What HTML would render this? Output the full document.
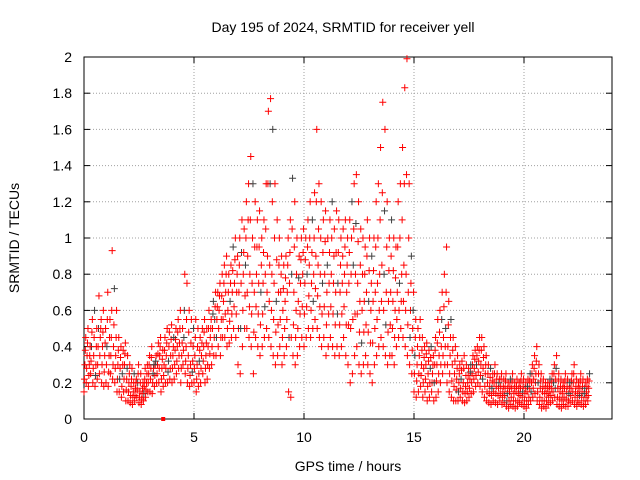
<!DOCTYPE html>
<html><head><meta charset="utf-8"><style>
html,body{margin:0;padding:0;background:#fff;}
svg{display:block;font-family:"Liberation Sans",sans-serif;}
</style></head><body>
<svg id="chart" width="640" height="480">
<text x="343" y="32" text-anchor="middle" font-size="14">Day 195 of 2024, SRMTID for receiver yell</text>
<text x="348" y="471" text-anchor="middle" font-size="14">GPS time / hours</text>
<text transform="translate(19,238) rotate(-90)" text-anchor="middle" font-size="14">SRMTID / TECUs</text>
<g id="grid"></g><g id="axes"></g><g id="marks"></g>
</svg>
<script>
const xTicks=[0,5,10,15,20];
const yTicks=[0,0.2,0.4,0.6,0.8,1,1.2,1.4,1.6,1.8,2];
const yTickLabels=["0","0.2","0.4","0.6","0.8","1","1.2","1.4","1.6","1.8","2"];
const timeStep=0.1;
const highVals=[.45,.5,.4,.55,.6,.5,.68,.55,.6,.5,.7,.55,.93,.72,.6,.45,.4,.38,.42,.35,.3,.28,.25,.22,.3,.25,.2,.28,.3,.35,.4,.3,.35,.42,.45,.38,.45,.5,.48,.52,.45,.5,.55,.6,.5,.8,.75,.6,.55,.5,.55,.5,.45,.5,.55,.5,.6,.55,.65,.7,.7,.75,.8,.85,.9,.8,.85,.95,1.0,.9,1.0,1.1,1.05,1.2,1.3,1.45,1.3,1.2,1.1,1.15,1.0,1.1,1.3,1.7,1.77,1.6,1.3,1.1,1.0,.9,.85,.9,1.0,1.1,1.33,1.2,1.0,.9,1.0,1.05,1.0,1.1,1.2,1.1,1.25,1.6,1.3,1.2,1.1,1.15,1.0,1.1,1.2,1.05,1.15,1.1,1.0,1.05,1.1,1.0,1.1,1.2,1.3,1.35,1.2,1.05,1.0,.95,1.1,1.0,.9,1.0,1.2,1.3,1.5,1.75,1.6,1.2,1.0,1.1,1.0,.95,1.2,1.3,1.5,1.83,1.99,1.3,.9,.7,.55,.5,.55,.45,.4,.42,.38,.4,.35,.45,.55,.6,.7,.8,.95,.65,.55,.45,.4,.35,.3,.32,.35,.3,.28,.3,.35,.38,.4,.45,.45,.4,.35,.3,.28,.25,.3,.25,.22,.25,.22,.25,.2,.22,.25,.2,.22,.2,.25,.22,.2,.22,.25,.3,.35,.4,.3,.25,.22,.2,.2,.22,.25,.3,.35,.25,.22,.2,.25,.22,.2,.25,.3,.22,.2,.25,.22,.2,.22,.25];
const upperVals=[.38,.42,.35,.48,.45,.4,.5,.5,.48,.42,.55,.45,.6,.52,.45,.38,.34,.3,.36,.28,.25,.22,.2,.2,.25,.2,.17,.22,.25,.3,.34,.28,.32,.36,.4,.33,.38,.42,.4,.44,.4,.44,.48,.5,.42,.6,.55,.48,.42,.4,.45,.4,.38,.42,.48,.42,.5,.5,.58,.62,.62,.68,.68,.75,.8,.7,.75,.82,.88,.8,.85,.92,.92,1.0,1.1,1.1,1.0,.95,.95,.95,.85,.92,1.05,1.3,1.3,1.2,1.0,.88,.85,.8,.72,.78,.85,.92,1.05,.95,.8,.78,.88,.92,.88,.95,1.0,.92,1.0,1.2,1.05,1.0,.92,.98,.85,.92,1.0,.9,.92,.92,.85,.9,.95,.85,.92,1.0,1.05,1.08,.98,.85,.8,.8,.9,.82,.75,.82,.95,1.0,1.1,1.25,1.15,.95,.82,.9,.82,.78,.95,1.0,1.1,1.3,1.35,1.0,.75,.6,.45,.4,.45,.38,.34,.36,.32,.34,.3,.38,.42,.48,.55,.62,.7,.52,.45,.38,.32,.28,.25,.27,.28,.24,.24,.26,.3,.33,.35,.38,.38,.34,.3,.25,.23,.21,.25,.22,.2,.22,.18,.21,.17,.18,.21,.17,.18,.17,.21,.18,.17,.18,.21,.25,.28,.32,.25,.21,.18,.17,.17,.18,.21,.25,.28,.21,.18,.17,.21,.18,.17,.21,.25,.18,.17,.21,.18,.17,.18,.21];
const midVals=[.3,.35,.3,.4,.35,.3,.4,.45,.4,.35,.4,.35,.45,.4,.35,.3,.28,.25,.3,.22,.2,.18,.15,.17,.2,.15,.14,.18,.2,.25,.28,.25,.3,.3,.35,.28,.3,.35,.32,.35,.35,.38,.4,.42,.35,.45,.4,.35,.3,.32,.35,.3,.32,.35,.4,.35,.4,.45,.5,.55,.55,.6,.55,.65,.7,.6,.65,.7,.75,.7,.7,.75,.8,.85,.9,.8,.75,.7,.8,.75,.7,.75,.8,.9,.85,.8,.75,.65,.7,.7,.6,.65,.7,.75,.8,.7,.6,.65,.75,.8,.75,.8,.85,.75,.8,.9,.85,.8,.75,.8,.7,.75,.8,.75,.7,.75,.7,.75,.8,.7,.75,.8,.85,.8,.75,.65,.6,.65,.7,.65,.6,.65,.7,.75,.8,.85,.8,.7,.65,.7,.65,.6,.7,.75,.8,.85,.8,.7,.6,.5,.35,.3,.35,.3,.28,.3,.25,.28,.25,.3,.3,.35,.4,.45,.5,.4,.35,.3,.25,.22,.2,.22,.2,.18,.2,.22,.25,.28,.3,.32,.3,.28,.25,.2,.18,.17,.2,.18,.17,.18,.15,.17,.14,.15,.17,.14,.15,.14,.17,.15,.14,.15,.17,.2,.22,.25,.2,.17,.15,.14,.14,.15,.17,.2,.22,.17,.15,.14,.17,.15,.14,.17,.2,.15,.14,.17,.15,.14,.15,.17];
const lowerVals=[.22,.28,.24,.32,.28,.24,.3,.35,.3,.26,.3,.26,.35,.3,.28,.22,.22,.18,.22,.16,.15,.13,.12,.13,.16,.12,.11,.14,.16,.2,.22,.2,.24,.25,.28,.22,.24,.28,.26,.28,.28,.3,.32,.35,.28,.38,.32,.28,.24,.26,.28,.22,.25,.28,.32,.28,.3,.36,.4,.45,.45,.5,.45,.55,.58,.5,.54,.58,.62,.58,.5,.5,.6,.68,.7,.62,.58,.48,.62,.58,.52,.58,.62,.7,.65,.6,.55,.48,.52,.55,.45,.5,.55,.45,.45,.52,.45,.5,.58,.62,.58,.62,.68,.6,.65,.72,.68,.62,.58,.62,.52,.58,.62,.58,.52,.58,.52,.58,.62,.52,.52,.5,.55,.58,.58,.48,.42,.48,.52,.48,.42,.42,.5,.55,.6,.65,.6,.52,.48,.52,.5,.45,.55,.6,.65,.65,.6,.52,.45,.38,.25,.21,.25,.24,.2,.22,.18,.2,.2,.2,.21,.25,.3,.35,.4,.3,.25,.21,.18,.16,.15,.17,.15,.14,.15,.17,.2,.22,.24,.26,.24,.22,.18,.15,.14,.13,.15,.14,.13,.14,.12,.13,.1,.1,.12,.1,.1,.1,.13,.12,.1,.1,.12,.15,.17,.2,.15,.12,.1,.1,.1,.12,.13,.15,.17,.12,.11,.1,.12,.11,.1,.13,.15,.12,.1,.13,.12,.1,.12,.13];
const lowVals=[.15,.2,.18,.25,.2,.18,.22,.25,.2,.18,.2,.18,.25,.22,.2,.15,.15,.12,.15,.1,.1,.09,.08,.1,.12,.09,.08,.1,.12,.15,.15,.14,.18,.2,.2,.15,.18,.2,.2,.22,.2,.22,.25,.28,.2,.3,.25,.2,.18,.2,.2,.15,.18,.2,.25,.2,.22,.28,.3,.35,.35,.4,.35,.45,.45,.4,.42,.45,.5,.45,.3,.25,.4,.5,.5,.45,.4,.25,.45,.4,.35,.4,.45,.5,.45,.4,.35,.3,.35,.4,.3,.35,.4,.15,.12,.35,.3,.35,.4,.45,.4,.45,.5,.45,.5,.55,.5,.45,.4,.45,.35,.4,.45,.4,.35,.4,.35,.4,.45,.35,.3,.2,.25,.35,.4,.3,.25,.3,.35,.3,.25,.2,.3,.35,.4,.45,.4,.35,.3,.35,.35,.3,.4,.45,.5,.45,.4,.35,.3,.25,.15,.12,.15,.18,.12,.15,.1,.12,.15,.1,.12,.15,.2,.25,.3,.2,.15,.12,.1,.1,.1,.12,.1,.09,.1,.12,.14,.15,.18,.2,.18,.15,.12,.1,.09,.08,.1,.09,.08,.1,.08,.09,.07,.06,.08,.07,.06,.07,.09,.08,.07,.06,.08,.1,.12,.14,.1,.08,.06,.07,.06,.08,.09,.1,.12,.08,.07,.06,.08,.07,.07,.09,.1,.08,.07,.09,.08,.07,.08,.1];
const outlierTimes=[3.6];
const outlierVals=[0];

const L=84,R=612,T=57,B=419,XMAX=24,YMAX=2;
const xs=v=>L+v/XMAX*(R-L);
const ys=v=>B-v/YMAX*(B-T);
const NS="http://www.w3.org/2000/svg";
function mk(tag,attrs,parent){const e=document.createElementNS(NS,tag);for(const k in attrs)e.setAttribute(k,attrs[k]);parent.appendChild(e);return e;}
const grid=document.getElementById('grid'),axes=document.getElementById('axes'),marks=document.getElementById('marks');
xTicks.forEach(t=>{
  const x=xs(t);
  if(t>0){const g=mk('line',{x1:x,y1:T,x2:x,y2:B,stroke:'#a0a0a0','stroke-dasharray':'1,2','stroke-width':1},grid);
  
  }
  mk('line',{x1:x,y1:B,x2:x,y2:B-6,stroke:'#000'},axes);
  mk('line',{x1:x,y1:T,x2:x,y2:T+6,stroke:'#000'},axes);
  const lb=mk('text',{x:x,y:B+23,'text-anchor':'middle','font-size':14},axes);lb.textContent=String(t);
  
  
});
yTicks.forEach((t,i)=>{
  const y=ys(t);
  if(t>0&&t<YMAX){const g=mk('line',{x1:L,y1:y,x2:R,y2:y,stroke:'#a0a0a0','stroke-dasharray':'1,2','stroke-width':1},grid);
  
  }
  mk('line',{x1:L,y1:y,x2:L+6,y2:y,stroke:'#000'},axes);
  mk('line',{x1:R,y1:y,x2:R-6,y2:y,stroke:'#000'},axes);
  const lb=mk('text',{x:L-12,y:y+5,'text-anchor':'end','font-size':14},axes);lb.textContent=yTickLabels[i];
  
  
});
const fr=mk('rect',{x:L,y:T,width:R-L,height:B-T,fill:'none',stroke:'#000'},axes);


function plus(t,v,col){
  const x=xs(t),y=ys(v);
  const p=mk('path',{d:`M${x-3.5},${y}h7M${x},${y-3.5}v7`,stroke:col,'stroke-width':1,fill:'none'},marks);
  
  
}
lowVals.forEach((v,i)=>plus(i*timeStep,v,'#f00'));
lowerVals.forEach((v,i)=>plus(i*timeStep+0.02,v,(i%11===5)?'#404040':'#f00'));
midVals.forEach((v,i)=>plus(i*timeStep+0.04,v,(i%7===3)?'#404040':'#f00'));
upperVals.forEach((v,i)=>plus(i*timeStep+0.06,v,(i%13===6)?'#404040':'#f00'));
highVals.forEach((v,i)=>plus(i*timeStep+0.08,v,(i%9===4)?'#404040':'#f00'));
outlierTimes.forEach((t,i)=>{
  const r=mk('rect',{x:xs(t)-2,y:ys(outlierVals[i])-2,width:4,height:4,fill:'#f00'},marks);
  
  
});
</script>
</body></html>
